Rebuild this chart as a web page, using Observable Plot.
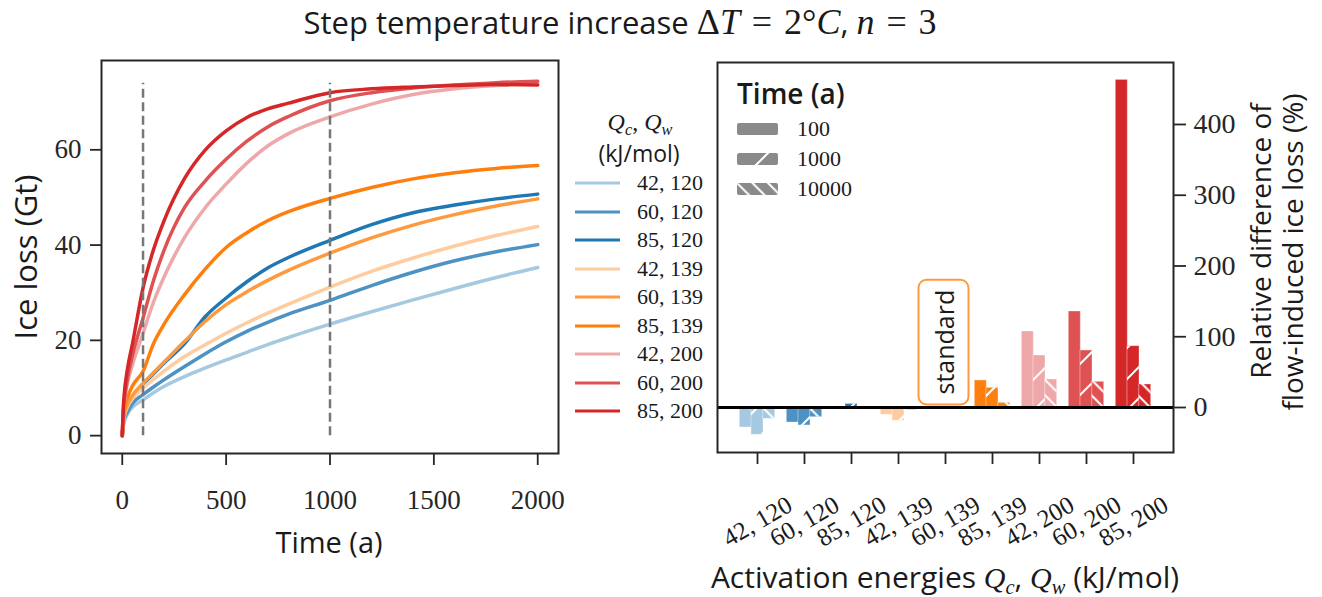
<!DOCTYPE html>
<html><head><meta charset="utf-8">
<script src="https://cdn.jsdelivr.net/npm/d3@7"></script>
<script src="https://cdn.jsdelivr.net/npm/@observablehq/plot@0.6"></script>
<style>
body{margin:0;background:#fff}
#fig{position:relative;width:1322px;height:597px;overflow:hidden;color:#1a1a1a;font-family:"Open Sans",Lato,sans-serif}
.lab{position:absolute;white-space:nowrap;line-height:1}
.m{font-family:"Liberation Serif",serif}
.m i{font-style:italic}
.eq{padding:0 0.33em}
.sb{font-size:68%;position:relative;top:0.28em;font-style:italic;line-height:0}
svg{overflow:visible}
</style></head>
<body><div id="fig"></div>
<script>
// ---------- data ----------
const combos = ["42, 120","60, 120","85, 120","42, 139","60, 139","85, 139","42, 200","60, 200","85, 200"];
const colors = ["#a5c9e1","#4c92c3","#1f77b4","#ffcc9f","#ff993e","#ff7f0e","#efa8a9","#de5253","#d62728"];
const times = [0,5,10,25,50,100,150,200,300,400,500,600,700,800,1000,1200,1400,1600,1800,2000];
const loss_42_120 = [0,2,3,4.5,6,7.5,9,10.3,12.4,14.2,15.9,17.5,19.1,20.6,23.4,26,28.5,30.9,33.2,35.3];
const loss_60_120 = [0,2.5,3.5,5,6.8,8.6,10.2,11.7,14.5,17.2,19.7,21.9,23.8,25.5,28.4,31.5,34.3,36.7,38.6,40.1];
const loss_85_120 = [0,3,4.5,6.5,8.3,10.8,13,15.2,19.3,25,28.9,32.3,35.2,37.4,41,44.3,46.8,48.4,49.7,50.7];
const loss_42_139 = [0,2.5,4,6,7.8,10,11.8,13.5,16.6,19.1,21.5,23.7,25.7,27.6,31.2,34.5,37.3,39.8,42,43.9];
const loss_60_139 = [0,3,4.5,6.5,8.5,11,13.2,15.4,19.8,24,27.5,30.2,32.6,34.7,38.3,41.5,44.2,46.4,48.2,49.7];
const loss_85_139 = [0,3.5,5.5,8,10.5,13.5,19.3,23.3,29.6,35,39.5,42.6,45.1,47,49.8,52.1,53.9,55.2,56.1,56.7];
const loss_42_200 = [0,4.5,7,11,15,21.5,28,33.2,41.6,47.9,52.8,57.2,60.8,63.4,66.9,69.6,71.6,72.8,73.5,74];
const loss_60_200 = [0,5,7.5,12,17,24.7,32.5,38.8,47.9,53.5,58,61.8,64.8,67,70.3,72,73,73.6,74.1,74.4];
const loss_85_200 = [0,6,9,14,19.5,31,39,45,54,60,64,66.8,68.6,69.8,72,72.8,73.2,73.5,73.7,73.6];
const lossSeries = [loss_42_120,loss_60_120,loss_85_120,loss_42_139,loss_60_139,loss_85_139,loss_42_200,loss_60_200,loss_85_200];
const markerTimes = [100, 1000];
const markerSpan = [0, 74];
const timeTicks = [0, 500, 1000, 1500, 2000];
const lossTicks = [0, 20, 40, 60];

const barTimes = ["100", "1000", "10000"];
const rel_100   = [-28.3,-21.2,0.5,-10.4,0,38.2,107.4,135.7,463];
const rel_1000  = [-38.6,-25.4,5,-18.8,0,27.8,73.5,80.6,86.7];
const rel_10000 = [-16,-13.7,1,-4.2,0,6.6,39.6,36.3,32.5];
const relTicks = [0, 100, 200, 300, 400];
const standardCombo = "60, 139";

// ---------- helpers ----------
const fig = document.getElementById("fig");
const NS = "http://www.w3.org/2000/svg";
function svgEl(tag, attrs) { const e = document.createElementNS(NS, tag); for (const k in attrs) e.setAttribute(k, attrs[k]); return e; }
function label(html, cx, cy, style, rot) {
  const d = document.createElement("div");
  d.className = "lab"; d.innerHTML = html;
  d.style.left = cx + "px"; d.style.top = cy + "px";
  d.style.transform = "translate(-50%,-50%)" + (rot ? ` rotate(${rot}deg)` : "");
  Object.assign(d.style, style || {});
  fig.appendChild(d); return d;
}
function leftLabel(html, x, cy, style) {
  const d = document.createElement("div");
  d.className = "lab"; d.innerHTML = html;
  d.style.left = x + "px"; d.style.top = cy + "px"; d.style.transform = "translate(0,-50%)";
  Object.assign(d.style, style || {});
  fig.appendChild(d); return d;
}

// hatch patterns
const defsSvg = svgEl("svg", {width: 0, height: 0, style: "position:absolute"});
const defs = svgEl("defs", {});
function hatch(id, size, d) {
  const p = svgEl("pattern", {id, width: size, height: size, patternUnits: "userSpaceOnUse"});
  p.appendChild(svgEl("path", {d, stroke: "white", "stroke-width": 2, fill: "none"}));
  defs.appendChild(p);
}
hatch("hatchFwd", 31, "M-8,8L8,-8M0,31L31,0M23,39L39,23");
hatch("hatchBack", 15.5, "M0,0L15.5,15.5M-4,11.5L4,19.5M11.5,-4L19.5,4");
defsSvg.appendChild(defs);
fig.appendChild(defsSvg);

const colorScale = {domain: combos, range: colors};
const serif = "'Liberation Serif', serif";
const sans = "'Open Sans', sans-serif";

// ---------- left chart ----------
const lineData = combos.flatMap((c, i) => times.map((t, j) => ({combo: c, t, v: lossSeries[i][j]})));
const left = Plot.plot({
  width: 575, height: 597,
  marginLeft: 101, marginRight: 17, marginTop: 60, marginBottom: 144,
  style: {fontFamily: serif, fontSize: "27px", color: "#262626", background: "transparent", overflow: "visible"},
  x: {domain: [-100, 2100]},
  y: {domain: [-3.75, 78.75]},
  color: colorScale,
  marks: [
    Plot.line(lineData, {x: "t", y: "v", z: "combo", stroke: "combo", strokeWidth: 3.5, curve: "monotone-x"}),
    Plot.ruleX(markerTimes, {y1: markerSpan[0], y2: markerSpan[1], stroke: "#777", strokeWidth: 2.5, strokeDasharray: "9,4.5"}),
    Plot.frame({stroke: "#262626", strokeWidth: 2}),
    Plot.axisX({ticks: timeTicks, tickFormat: d => String(d), tickSize: 12, tickPadding: 24, label: null, strokeWidth: 1.8}),
    Plot.axisY({ticks: lossTicks, tickFormat: d => String(d), tickSize: 11, tickPadding: 9, label: null, strokeWidth: 1.8})
  ]
});
left.style.position = "absolute"; left.style.left = "0px"; left.style.top = "0px";
fig.appendChild(left);

// ---------- right chart ----------
const barRows = vals => combos.map((c, i) => ({combo: c, v: vals[i]}));
const groups = [
  {rows: barRows(rel_100), dx: -11.7, hatch: null},
  {rows: barRows(rel_1000), dx: 0, hatch: "url(#hatchFwd)"},
  {rows: barRows(rel_10000), dx: 11.7, hatch: "url(#hatchBack)"}
];
const right = Plot.plot({
  width: 622, height: 597,
  marginLeft: 17, marginRight: 149, marginTop: 62, marginBottom: 145,
  style: {fontFamily: serif, fontSize: "28px", color: "#262626", background: "transparent", overflow: "visible"},
  x: {type: "band", domain: combos, paddingInner: 0.753, paddingOuter: 0.679},
  y: {domain: [-63.6, 487.6]},
  color: colorScale,
  marks: [
    ...groups.flatMap(g => [
      Plot.barY(g.rows, {x: "combo", y: "v", fill: "combo", dx: g.dx, stroke: "#fff", strokeOpacity: 0.35, strokeWidth: 1}),
      ...(g.hatch ? [Plot.barY(g.rows, {x: "combo", y: "v", fill: g.hatch, dx: g.dx})] : [])
    ]),
    Plot.ruleY([0], {stroke: "#000", strokeWidth: 3}),
    Plot.text([{combo: standardCombo, v: 0, label: "standard"}], {x: "combo", y: "v", text: "label", rotate: -90, textAnchor: "start", lineAnchor: "middle", dy: -13, fontFamily: sans, fontSize: 25, fill: "#1a1a1a"}),
    Plot.frame({stroke: "#262626", strokeWidth: 2}),
    Plot.axisX({tickSize: 12, tickFormat: () => "", label: null, strokeWidth: 1.8}),
    Plot.text(combos, {x: d => d, frameAnchor: "bottom", dy: 69, rotate: -30, textAnchor: "middle", lineAnchor: "middle", fontSize: 25, fill: "#1a1a1a"}),
    Plot.axisY({anchor: "right", ticks: relTicks, tickFormat: d => String(d), tickSize: 12, tickPadding: 8, label: null, strokeWidth: 1.8})
  ]
});
right.style.position = "absolute"; right.style.left = "700px"; right.style.top = "0px";
fig.appendChild(right);

// rounded box around "standard"
(function () {
  const t = [...right.querySelectorAll("text")].find(e => e.textContent === "standard");
  if (!t) return;
  const r = t.getBoundingClientRect(), s = right.getBoundingClientRect();
  const padX = 8, padY = 10;
  const box = svgEl("rect", {
    x: r.left - s.left - padX, y: r.top - s.top - padY,
    width: r.width + 2 * padX, height: r.height + 2 * padY,
    rx: 8, ry: 8, fill: "#fff", stroke: "#ff993e", "stroke-width": 2
  });
  const g = t.closest("g");
  g.parentNode.insertBefore(box, g);
})();

// ---------- texts ----------
label('<span>Step temperature increase </span><span class="m" style="font-size:36px">Δ<i>T</i><span class="eq">=</span>2°<i>C</i></span><span>, </span><span class="m" style="font-size:36px"><i>n</i><span class="eq">=</span>3</span>', 620, 22, {fontSize: "31px"});
label("Ice loss (Gt)", 25, 257, {fontSize: "31px"}, -90);
label("Time (a)", 329, 541, {fontSize: "29px"});
label('Activation energies <span class="m"><i>Q</i><span class="sb">c</span></span>, <span class="m"><i>Q</i><span class="sb">w</span></span> (kJ/mol)', 945, 577, {fontSize: "30px"});
label("Relative difference of", 1260, 241, {fontSize: "28px"}, -90);
label("flow-induced ice loss (%)", 1292, 252, {fontSize: "28px"}, -90);

// left legend
label('<span class="m"><i>Q</i><span class="sb">c</span>, <i>Q</i><span class="sb">w</span></span>', 640, 121, {fontSize: "24px"});
label("(kJ/mol)", 639, 153, {fontSize: "23px"});
combos.forEach((c, i) => {
  const y = 183 + i * 28.5;
  const s = svgEl("svg", {width: 46, height: 6, style: `position:absolute;left:575px;top:${y - 3}px`});
  s.appendChild(svgEl("line", {x1: 0, x2: 45, y1: 3, y2: 3, stroke: colors[i], "stroke-width": 3}));
  fig.appendChild(s);
  leftLabel(c, 637, y, {fontFamily: serif, fontSize: "22px"});
});

// right legend
leftLabel("Time (a)", 737, 93, {fontSize: "28px", fontWeight: "600"});
barTimes.forEach((bt, i) => {
  const y = 129 + i * 30;
  const s = svgEl("svg", {width: 41, height: 12, style: `position:absolute;left:737px;top:${y - 6}px`});
  s.appendChild(svgEl("rect", {x: 0, y: 0, width: 41, height: 12, rx: 2, fill: "#8a8a8a"}));
  if (i > 0) s.appendChild(svgEl("rect", {x: 0, y: 0, width: 41, height: 12, rx: 2, fill: i === 1 ? "url(#hatchFwd)" : "url(#hatchBack)"}));
  fig.appendChild(s);
  leftLabel(bt, 797, y, {fontFamily: serif, fontSize: "22px"});
});
</script>
</body></html>
